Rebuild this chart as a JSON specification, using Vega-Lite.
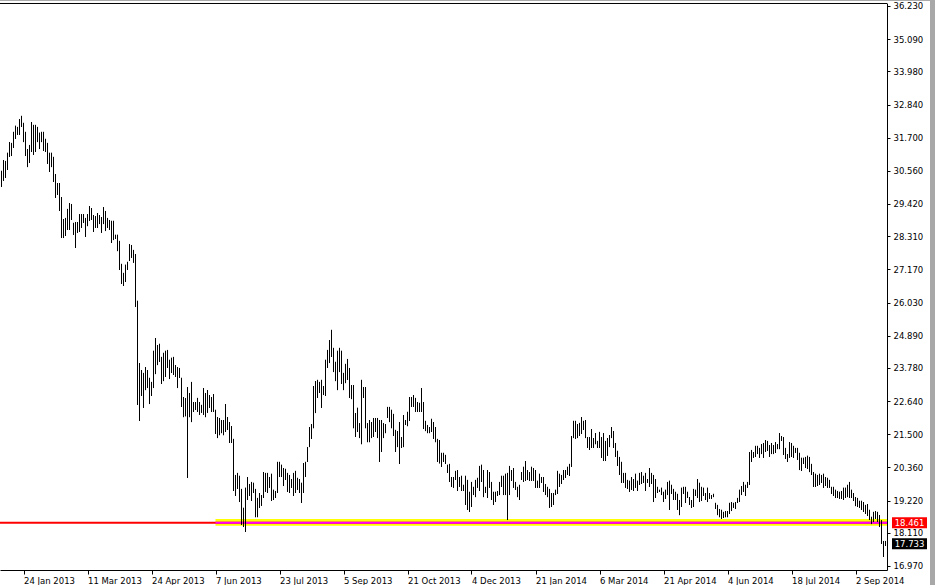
{
"$schema": "https://vega.github.io/schema/vega-lite/v6.json",
"width": 887,
"height": 567,
"autosize": {"type": "none"},
"padding": {"left": 0, "top": 3, "right": 48, "bottom": 15},
"background": "#ffffff",
"config": {"view": {"stroke": null}, "font": "DejaVu Sans", "axis": {"labelOverlap": false, "labelBound": false, "labelFlush": false}},
"datasets": {
"bars": [
{"bar":0,"high":30.56,"low":30.01},{"bar":1,"high":30.93,"low":30.22},{"bar":2,"high":30.90,"low":30.32},{"bar":3,"high":31.18,"low":30.59},{"bar":4,"high":31.55,"low":31.04},{"bar":5,"high":31.52,"low":31.07},{"bar":6,"high":31.90,"low":31.35},{"bar":7,"high":32.11,"low":31.66},{"bar":8,"high":32.07,"low":31.80},{"bar":9,"high":32.34,"low":31.80},
{"bar":10,"high":32.45,"low":32.07},{"bar":11,"high":32.21,"low":31.55},{"bar":12,"high":31.90,"low":31.07},{"bar":13,"high":31.31,"low":30.69},{"bar":14,"high":31.45,"low":30.83},{"bar":15,"high":32.24,"low":31.21},{"bar":16,"high":32.14,"low":31.11},{"bar":17,"high":32.14,"low":31.21},{"bar":18,"high":32.07,"low":31.55},{"bar":19,"high":31.87,"low":31.31},
{"bar":20,"high":31.90,"low":31.55},{"bar":21,"high":31.90,"low":31.25},{"bar":22,"high":31.66,"low":31.21},{"bar":23,"high":31.52,"low":30.80},{"bar":24,"high":31.18,"low":30.52},{"bar":25,"high":31.18,"low":30.69},{"bar":26,"high":31.04,"low":30.18},{"bar":27,"high":30.45,"low":29.63},{"bar":28,"high":30.14,"low":29.73},{"bar":29,"high":30.14,"low":29.18},
{"bar":30,"high":29.66,"low":28.25},{"bar":31,"high":28.90,"low":28.25},{"bar":32,"high":28.94,"low":28.32},{"bar":33,"high":29.25,"low":28.53},{"bar":34,"high":29.45,"low":28.53},{"bar":35,"high":29.42,"low":28.87},{"bar":36,"high":28.77,"low":28.36},{"bar":37,"high":28.80,"low":27.91},{"bar":38,"high":28.80,"low":28.43},{"bar":39,"high":29.07,"low":28.46},
{"bar":40,"high":29.07,"low":28.60},{"bar":41,"high":29.07,"low":28.77},{"bar":42,"high":28.94,"low":28.29},{"bar":43,"high":29.07,"low":28.66},{"bar":44,"high":29.35,"low":28.84},{"bar":45,"high":29.28,"low":28.87},{"bar":46,"high":29.04,"low":28.46},{"bar":47,"high":29.00,"low":28.60},{"bar":48,"high":29.11,"low":28.60},{"bar":49,"high":29.04,"low":28.73},
{"bar":50,"high":28.97,"low":28.43},{"bar":51,"high":29.31,"low":28.73},{"bar":52,"high":29.18,"low":28.49},{"bar":53,"high":28.94,"low":28.60},{"bar":54,"high":28.87,"low":28.53},{"bar":55,"high":28.84,"low":28.08},{"bar":56,"high":28.84,"low":28.18},{"bar":57,"high":28.36,"low":28.22},{"bar":58,"high":28.36,"low":27.80},{"bar":59,"high":28.15,"low":27.15},
{"bar":60,"high":27.36,"low":26.67},{"bar":61,"high":27.05,"low":26.60},{"bar":62,"high":27.33,"low":26.74},{"bar":63,"high":27.43,"low":27.15},{"bar":64,"high":28.04,"low":27.46},{"bar":65,"high":28.01,"low":27.57},{"bar":66,"high":27.84,"low":27.40},{"bar":67,"high":27.70,"low":25.88},{"bar":68,"high":26.09,"low":22.51},{"bar":69,"high":23.95,"low":21.96},
{"bar":70,"high":23.71,"low":22.82},{"bar":71,"high":23.61,"low":22.41},{"bar":72,"high":23.81,"low":23.02},{"bar":73,"high":23.71,"low":23.09},{"bar":74,"high":23.44,"low":22.54},{"bar":75,"high":23.30,"low":22.82},{"bar":76,"high":24.37,"low":23.09},{"bar":77,"high":24.81,"low":23.57},{"bar":78,"high":24.57,"low":23.88},{"bar":79,"high":24.61,"low":23.99},
{"bar":80,"high":24.16,"low":23.23},{"bar":81,"high":24.30,"low":23.33},{"bar":82,"high":24.37,"low":23.47},{"bar":83,"high":24.40,"low":23.78},{"bar":84,"high":24.06,"low":23.40},{"bar":85,"high":24.13,"low":23.61},{"bar":86,"high":24.16,"low":23.54},{"bar":87,"high":23.88,"low":23.47},{"bar":88,"high":23.81,"low":23.09},{"bar":89,"high":23.78,"low":23.44},
{"bar":90,"high":23.44,"low":22.44},{"bar":91,"high":22.78,"low":22.09},{"bar":92,"high":22.74,"low":22.12},{"bar":93,"high":23.12,"low":20.00},{"bar":94,"high":22.92,"low":22.09},{"bar":95,"high":23.30,"low":21.92},{"bar":96,"high":22.61,"low":22.27},{"bar":97,"high":22.61,"low":22.34},{"bar":98,"high":22.75,"low":22.27},{"bar":99,"high":22.61,"low":22.17},
{"bar":100,"high":22.51,"low":22.24},{"bar":101,"high":23.09,"low":22.17},{"bar":102,"high":22.92,"low":22.09},{"bar":103,"high":23.02,"low":22.24},{"bar":104,"high":22.85,"low":22.41},{"bar":105,"high":22.78,"low":22.27},{"bar":106,"high":22.88,"low":22.27},{"bar":107,"high":22.34,"low":21.51},{"bar":108,"high":22.09,"low":21.37},{"bar":109,"high":22.06,"low":21.47},
{"bar":110,"high":21.99,"low":21.54},{"bar":111,"high":21.99,"low":21.47},{"bar":112,"high":22.54,"low":21.58},{"bar":113,"high":22.09,"low":21.65},{"bar":114,"high":21.92,"low":21.20},{"bar":115,"high":21.78,"low":21.20},{"bar":116,"high":21.34,"low":19.55},{"bar":117,"high":20.10,"low":19.38},{"bar":118,"high":20.17,"low":19.62},{"bar":119,"high":20.07,"low":19.17},
{"bar":120,"high":19.62,"low":18.38},{"bar":121,"high":18.97,"low":18.31},{"bar":122,"high":19.66,"low":18.14},{"bar":123,"high":20.03,"low":19.24},{"bar":124,"high":19.79,"low":19.38},{"bar":125,"high":19.86,"low":19.21},{"bar":126,"high":19.83,"low":19.48},{"bar":127,"high":19.62,"low":18.65},{"bar":128,"high":19.31,"low":18.65},{"bar":129,"high":19.48,"low":18.97},
{"bar":130,"high":19.41,"low":19.04},{"bar":131,"high":20.20,"low":19.31},{"bar":132,"high":20.17,"low":19.52},{"bar":133,"high":20.17,"low":19.48},{"bar":134,"high":20.03,"low":19.66},{"bar":135,"high":20.14,"low":19.21},{"bar":136,"high":19.59,"low":19.24},{"bar":137,"high":19.55,"low":19.31},{"bar":138,"high":20.55,"low":19.48},{"bar":139,"high":20.55,"low":20.03},
{"bar":140,"high":20.45,"low":20.03},{"bar":141,"high":20.34,"low":19.72},{"bar":142,"high":20.31,"low":19.93},{"bar":143,"high":20.17,"low":19.52},{"bar":144,"high":20.10,"low":19.48},{"bar":145,"high":19.96,"low":19.66},{"bar":146,"high":20.17,"low":19.38},{"bar":147,"high":20.24,"low":19.48},{"bar":148,"high":20.00,"low":19.59},{"bar":149,"high":19.96,"low":19.48},
{"bar":150,"high":19.83,"low":19.14},{"bar":151,"high":20.51,"low":19.48},{"bar":152,"high":20.55,"low":20.03},{"bar":153,"high":21.06,"low":20.55},{"bar":154,"high":21.75,"low":21.06},{"bar":155,"high":21.85,"low":21.34},{"bar":156,"high":23.16,"low":21.71},{"bar":157,"high":23.33,"low":22.23},{"bar":158,"high":23.37,"low":22.75},{"bar":159,"high":23.30,"low":22.92},
{"bar":160,"high":23.37,"low":22.41},{"bar":161,"high":23.16,"low":22.85},{"bar":162,"high":24.06,"low":22.82},{"bar":163,"high":24.40,"low":23.78},{"bar":164,"high":24.74,"low":23.95},{"bar":165,"high":25.09,"low":24.16},{"bar":166,"high":24.47,"low":23.64},{"bar":167,"high":23.99,"low":23.33},{"bar":168,"high":24.37,"low":23.02},{"bar":169,"high":24.47,"low":23.64},
{"bar":170,"high":24.37,"low":23.23},{"bar":171,"high":23.61,"low":23.02},{"bar":172,"high":23.92,"low":23.26},{"bar":173,"high":24.09,"low":23.37},{"bar":174,"high":23.78,"low":22.75},{"bar":175,"high":23.19,"low":22.71},{"bar":176,"high":23.19,"low":21.71},{"bar":177,"high":22.23,"low":21.41},{"bar":178,"high":22.41,"low":21.58},{"bar":179,"high":21.88,"low":21.37},
{"bar":180,"high":23.37,"low":21.16},{"bar":181,"high":23.12,"low":22.75},{"bar":182,"high":23.12,"low":21.71},{"bar":183,"high":21.88,"low":21.23},{"bar":184,"high":21.99,"low":21.23},{"bar":185,"high":21.92,"low":21.37},{"bar":186,"high":22.06,"low":21.41},{"bar":187,"high":22.06,"low":21.58},{"bar":188,"high":22.06,"low":21.37},{"bar":189,"high":21.99,"low":20.55},
{"bar":190,"high":21.99,"low":20.89},{"bar":191,"high":21.88,"low":21.37},{"bar":192,"high":21.85,"low":21.54},{"bar":193,"high":22.44,"low":22.06},{"bar":194,"high":22.44,"low":21.92},{"bar":195,"high":22.34,"low":21.71},{"bar":196,"high":22.20,"low":21.44},{"bar":197,"high":21.65,"low":20.89},{"bar":198,"high":21.61,"low":21.06},{"bar":199,"high":21.92,"low":20.48},
{"bar":200,"high":21.40,"low":21.03},{"bar":201,"high":22.16,"low":21.06},{"bar":202,"high":21.99,"low":21.82},{"bar":203,"high":22.27,"low":21.78},{"bar":204,"high":22.78,"low":21.96},{"bar":205,"high":22.78,"low":22.44},{"bar":206,"high":22.85,"low":22.44},{"bar":207,"high":22.75,"low":22.27},{"bar":208,"high":22.61,"low":22.27},{"bar":209,"high":22.58,"low":22.27},
{"bar":210,"high":23.09,"low":22.27},{"bar":211,"high":22.61,"low":21.68},{"bar":212,"high":21.96,"low":21.61},{"bar":213,"high":21.82,"low":21.54},{"bar":214,"high":21.75,"low":21.54},{"bar":215,"high":22.03,"low":21.58},{"bar":216,"high":21.92,"low":21.34},{"bar":217,"high":21.75,"low":21.23},{"bar":218,"high":21.34,"low":20.55},{"bar":219,"high":21.30,"low":20.50},
{"bar":220,"high":20.86,"low":20.38},{"bar":221,"high":20.86,"low":20.55},{"bar":222,"high":20.79,"low":20.48},{"bar":223,"high":20.45,"low":20.17},{"bar":224,"high":20.48,"low":19.86},{"bar":225,"high":20.03,"low":19.69},{"bar":226,"high":20.03,"low":19.66},{"bar":227,"high":20.24,"low":19.93},{"bar":228,"high":20.27,"low":19.55},{"bar":229,"high":20.03,"low":19.69},
{"bar":230,"high":20.07,"low":19.55},{"bar":231,"high":19.76,"low":19.55},{"bar":232,"high":20.07,"low":19.07},{"bar":233,"high":19.93,"low":18.90},{"bar":234,"high":19.52,"low":18.83},{"bar":235,"high":19.86,"low":19.00},{"bar":236,"high":19.69,"low":19.41},{"bar":237,"high":19.93,"low":19.34},{"bar":238,"high":20.00,"low":19.66},{"bar":239,"high":20.41,"low":19.55},
{"bar":240,"high":20.45,"low":19.86},{"bar":241,"high":20.27,"low":19.34},{"bar":242,"high":19.69,"low":19.48},{"bar":243,"high":20.27,"low":19.31},{"bar":244,"high":20.20,"low":19.66},{"bar":245,"high":19.86,"low":19.24},{"bar":246,"high":19.52,"low":19.07},{"bar":247,"high":19.52,"low":19.17},{"bar":248,"high":19.55,"low":19.38},{"bar":249,"high":19.86,"low":19.41},
{"bar":250,"high":20.07,"low":19.69},{"bar":251,"high":20.07,"low":19.41},{"bar":252,"high":20.14,"low":19.41},{"bar":253,"high":20.17,"low":18.55},{"bar":254,"high":20.41,"low":19.41},{"bar":255,"high":20.27,"low":19.90},{"bar":256,"high":20.34,"low":19.66},{"bar":257,"high":19.86,"low":19.59},{"bar":258,"high":19.69,"low":19.34},{"bar":259,"high":19.76,"low":19.24},
{"bar":260,"high":20.20,"low":19.93},{"bar":261,"high":20.38,"low":19.86},{"bar":262,"high":20.58,"low":19.90},{"bar":263,"high":20.27,"low":19.93},{"bar":264,"high":20.20,"low":19.90},{"bar":265,"high":20.38,"low":19.90},{"bar":266,"high":20.34,"low":19.90},{"bar":267,"high":20.27,"low":19.66},{"bar":268,"high":19.90,"low":19.66},{"bar":269,"high":20.14,"low":19.66},
{"bar":270,"high":20.03,"low":19.83},{"bar":271,"high":20.03,"low":19.52},{"bar":272,"high":19.79,"low":19.41},{"bar":273,"high":19.69,"low":19.34},{"bar":274,"high":19.62,"low":18.97},{"bar":275,"high":19.48,"low":19.00},{"bar":276,"high":19.48,"low":19.07},{"bar":277,"high":19.59,"low":19.41},{"bar":278,"high":20.24,"low":19.45},{"bar":279,"high":20.14,"low":19.69},
{"bar":280,"high":20.10,"low":19.79},{"bar":281,"high":20.27,"low":19.93},{"bar":282,"high":20.27,"low":20.00},{"bar":283,"high":20.38,"low":20.10},{"bar":284,"high":20.48,"low":20.07},{"bar":285,"high":21.44,"low":20.38},{"bar":286,"high":21.96,"low":21.37},{"bar":287,"high":21.96,"low":21.34},{"bar":288,"high":21.85,"low":21.37},{"bar":289,"high":21.89,"low":21.44},
{"bar":290,"high":22.09,"low":21.51},{"bar":291,"high":21.96,"low":21.65},{"bar":292,"high":21.99,"low":21.37},{"bar":293,"high":21.40,"low":21.03},{"bar":294,"high":21.40,"low":20.96},{"bar":295,"high":21.68,"low":21.03},{"bar":296,"high":21.37,"low":21.03},{"bar":297,"high":21.54,"low":21.16},{"bar":298,"high":21.27,"low":21.03},{"bar":299,"high":21.58,"low":21.03},
{"bar":300,"high":21.40,"low":20.69},{"bar":301,"high":21.54,"low":20.58},{"bar":302,"high":21.27,"low":20.58},{"bar":303,"high":21.37,"low":20.76},{"bar":304,"high":21.47,"low":21.06},{"bar":305,"high":21.75,"low":21.37},{"bar":306,"high":21.61,"low":21.03},{"bar":307,"high":21.20,"low":20.72},{"bar":308,"high":20.93,"low":20.41},{"bar":309,"high":20.72,"low":20.10},
{"bar":310,"high":20.55,"low":19.83},{"bar":311,"high":20.17,"low":19.83},{"bar":312,"high":20.17,"low":19.66},{"bar":313,"high":19.93,"low":19.62},{"bar":314,"high":19.90,"low":19.52},{"bar":315,"high":20.03,"low":19.59},{"bar":316,"high":19.96,"low":19.55},{"bar":317,"high":20.14,"low":19.66},{"bar":318,"high":19.90,"low":19.55},{"bar":319,"high":20.17,"low":19.76},
{"bar":320,"high":20.20,"low":19.79},{"bar":321,"high":20.07,"low":19.83},{"bar":322,"high":20.17,"low":19.55},{"bar":323,"high":19.96,"low":19.83},{"bar":324,"high":20.34,"low":19.69},{"bar":325,"high":20.17,"low":19.79},{"bar":326,"high":20.10,"low":19.17},{"bar":327,"high":19.96,"low":19.31},{"bar":328,"high":19.69,"low":19.48},{"bar":329,"high":19.59,"low":19.52},
{"bar":330,"high":19.66,"low":19.41},{"bar":331,"high":19.52,"low":19.17},{"bar":332,"high":19.59,"low":19.28},{"bar":333,"high":19.86,"low":19.41},{"bar":334,"high":19.90,"low":18.90},{"bar":335,"high":19.76,"low":19.45},{"bar":336,"high":19.62,"low":19.24},{"bar":337,"high":19.52,"low":19.24},{"bar":338,"high":19.45,"low":18.90},{"bar":339,"high":19.24,"low":18.72},
{"bar":340,"high":19.66,"low":19.00},{"bar":341,"high":19.69,"low":19.45},{"bar":342,"high":19.69,"low":19.14},{"bar":343,"high":19.52,"low":19.31},{"bar":344,"high":19.34,"low":19.07},{"bar":345,"high":19.24,"low":18.97},{"bar":346,"high":19.62,"low":19.00},{"bar":347,"high":19.59,"low":19.38},{"bar":348,"high":19.96,"low":19.31},{"bar":349,"high":19.83,"low":19.17},
{"bar":350,"high":19.69,"low":19.21},{"bar":351,"high":19.66,"low":19.38},{"bar":352,"high":19.48,"low":19.24},{"bar":353,"high":19.66,"low":19.17},{"bar":354,"high":19.48,"low":19.28},{"bar":355,"high":19.41,"low":19.28},{"bar":356,"high":19.45,"low":19.34},{"bar":357,"high":19.14,"low":18.93},{"bar":358,"high":19.07,"low":18.72},{"bar":359,"high":18.93,"low":18.65},
{"bar":360,"high":18.90,"low":18.59},{"bar":361,"high":18.83,"low":18.62},{"bar":362,"high":18.86,"low":18.65},{"bar":363,"high":18.86,"low":18.65},{"bar":364,"high":19.14,"low":18.76},{"bar":365,"high":19.17,"low":18.86},{"bar":366,"high":19.14,"low":18.97},{"bar":367,"high":19.17,"low":18.93},{"bar":368,"high":19.31,"low":19.14},{"bar":369,"high":19.59,"low":19.17},
{"bar":370,"high":19.72,"low":19.41},{"bar":371,"high":19.86,"low":19.52},{"bar":372,"high":19.76,"low":19.38},{"bar":373,"high":19.86,"low":19.66},{"bar":374,"high":20.89,"low":19.76},{"bar":375,"high":20.96,"low":20.55},{"bar":376,"high":20.89,"low":20.69},{"bar":377,"high":21.10,"low":20.72},{"bar":378,"high":21.10,"low":20.82},{"bar":379,"high":21.03,"low":20.69},
{"bar":380,"high":21.16,"low":20.82},{"bar":381,"high":21.20,"low":20.69},{"bar":382,"high":21.30,"low":20.89},{"bar":383,"high":21.27,"low":20.93},{"bar":384,"high":21.13,"low":20.72},{"bar":385,"high":21.20,"low":20.82},{"bar":386,"high":21.13,"low":20.82},{"bar":387,"high":21.23,"low":20.86},{"bar":388,"high":21.16,"low":20.99},{"bar":389,"high":21.54,"low":20.99},
{"bar":390,"high":21.44,"low":21.27},{"bar":391,"high":21.40,"low":20.79},{"bar":392,"high":21.03,"low":20.65},{"bar":393,"high":20.82,"low":20.55},{"bar":394,"high":21.23,"low":20.69},{"bar":395,"high":21.20,"low":20.72},{"bar":396,"high":21.10,"low":20.69},{"bar":397,"high":21.03,"low":20.86},{"bar":398,"high":21.03,"low":20.62},{"bar":399,"high":20.86,"low":20.27},
{"bar":400,"high":20.69,"low":20.24},{"bar":401,"high":20.69,"low":20.48},{"bar":402,"high":20.72,"low":20.34},{"bar":403,"high":20.76,"low":20.31},{"bar":404,"high":20.72,"low":20.20},{"bar":405,"high":20.48,"low":20.10},{"bar":406,"high":20.20,"low":19.69},{"bar":407,"high":20.14,"low":19.69},{"bar":408,"high":20.10,"low":19.72},{"bar":409,"high":20.14,"low":19.76},
{"bar":410,"high":20.10,"low":19.83},{"bar":411,"high":20.14,"low":19.66},{"bar":412,"high":20.03,"low":19.72},{"bar":413,"high":20.00,"low":19.66},{"bar":414,"high":19.93,"low":19.66},{"bar":415,"high":19.69,"low":19.45},{"bar":416,"high":19.69,"low":19.38},{"bar":417,"high":19.59,"low":19.31},{"bar":418,"high":19.55,"low":19.31},{"bar":419,"high":19.52,"low":19.28},
{"bar":420,"high":19.55,"low":19.28},{"bar":421,"high":19.66,"low":19.24},{"bar":422,"high":19.66,"low":19.31},{"bar":423,"high":19.76,"low":19.34},{"bar":424,"high":19.86,"low":19.31},{"bar":425,"high":19.59,"low":19.31},{"bar":426,"high":19.48,"low":19.21},{"bar":427,"high":19.34,"low":19.03},{"bar":428,"high":19.31,"low":19.00},{"bar":429,"high":19.21,"low":18.97},
{"bar":430,"high":19.21,"low":18.90},{"bar":431,"high":19.17,"low":18.83},{"bar":432,"high":19.07,"low":18.76},{"bar":433,"high":19.10,"low":18.69},{"bar":434,"high":18.90,"low":18.55},{"bar":435,"high":18.66,"low":18.41},{"bar":436,"high":18.83,"low":18.48},{"bar":437,"high":18.86,"low":18.59},{"bar":438,"high":18.83,"low":18.48},{"bar":439,"high":18.72,"low":18.31},
{"bar":440,"high":18.55,"low":17.73},{"bar":441,"high":17.83,"low":17.28},{"bar":442,"high":17.83,"low":17.66}
],
"zone": [{"start": 107, "end": 442.75, "upper": 18.59, "lower": 18.35, "level": 18.461}],
"level": [{"price": 18.461, "label": "18.461"}],
"quote": [{"price": 17.733, "label": "17.733"}]
},
"layer": [
{
"data": {"name": "bars"},
"mark": {"type": "rule", "color": "#000000", "strokeWidth": 1},
"encoding": {
"x": {"field": "bar", "type": "quantitative", "title": null,
"scale": {"domain": [-0.75, 442.75], "nice": false, "zero": false},
"axis": {"orient": "bottom", "grid": false, "values": [11, 43, 75, 107, 139, 171, 203, 235, 267, 299, 331, 363, 395, 427], "tickCount": 100,
"labelExpr": "['24 Jan 2013','11 Mar 2013','24 Apr 2013','7 Jun 2013','23 Jul 2013','5 Sep 2013','21 Oct 2013','4 Dec 2013','21 Jan 2014','6 Mar 2014','21 Apr 2014','4 Jun 2014','18 Jul 2014','2 Sep 2014'][(datum.value-11)/32]",
"labelAlign": "left", "labelPadding": 2, "tickSize": 4, "domainColor": "#000000", "tickColor": "#000000", "labelColor": "#000000",
"labelFont": "DejaVu Sans", "labelFontSize": 8.5, "labelOverlap": false, "labelFlush": false, "labelBound": false}},
"y": {"field": "high", "type": "quantitative", "title": null,
"scale": {"domain": [16.832, 36.333], "nice": false, "zero": false},
"axis": {"orient": "right", "grid": false, "values": [36.23, 35.09, 33.98, 32.84, 31.7, 30.56, 29.42, 28.31, 27.17, 26.03, 24.89, 23.78, 22.64, 21.5, 20.36, 19.22, 18.11, 16.97], "tickCount": 100,
"format": ".3f", "tickSize": 3, "labelPadding": 3, "domainColor": "#000000", "tickColor": "#000000", "labelColor": "#000000",
"labelFont": "DejaVu Sans", "labelFontSize": 8.5, "labelOverlap": false, "labelFlush": false, "labelBound": false}},
"y2": {"field": "low"}
}
},
{
"data": {"name": "zone"},
"mark": {"type": "rect", "color": "#ffff00"},
"encoding": {
"x": {"field": "start", "type": "quantitative", "title": null},
"x2": {"field": "end"},
"y": {"field": "upper", "type": "quantitative", "title": null},
"y2": {"field": "lower"}
}
},
{
"data": {"name": "level"},
"mark": {"type": "rule", "color": "#ff0000", "strokeWidth": 2},
"encoding": {
"y": {"field": "price", "type": "quantitative", "title": null}
}
},
{
"data": {"name": "zone"},
"mark": {"type": "rule", "color": "#ff00ff", "strokeWidth": 2},
"encoding": {
"x": {"field": "start", "type": "quantitative", "title": null},
"x2": {"field": "end"},
"y": {"field": "level", "type": "quantitative", "title": null}
}
},
{
"data": {"name": "bars"},
"mark": {"type": "rule", "color": "#000000", "strokeWidth": 1},
"encoding": {
"x": {"field": "bar", "type": "quantitative", "title": null},
"y": {"field": "high", "type": "quantitative", "title": null},
"y2": {"field": "low"}
}
},
{
"data": {"name": "level"},
"mark": {"type": "rule", "color": "#000000", "strokeWidth": 1},
"encoding": {
"y": {"datum": 36.316, "type": "quantitative", "title": null}
}
},
{
"data": {"name": "level"},
"mark": {"type": "rule", "color": "#a8a8a8", "strokeWidth": 1, "clip": false},
"encoding": {
"x": {"datum": -0.75, "type": "quantitative", "title": null},
"x2": {"datum": 467.5},
"y": {"datum": 36.42, "type": "quantitative", "title": null}
}
},
{
"data": {"name": "level"},
"mark": {"type": "rule", "color": "#a8a8a8", "strokeWidth": 5, "clip": false},
"encoding": {
"x": {"datum": 465.5, "type": "quantitative", "title": null},
"y": {"datum": 36.42, "type": "quantitative", "title": null},
"y2": {"datum": 16.3}
}
},
{
"data": {"name": "level"},
"mark": {"type": "rule", "color": "#ff0000", "strokeWidth": 11, "clip": false},
"encoding": {
"x": {"datum": 445.25, "type": "quantitative", "title": null},
"x2": {"datum": 462.75},
"y": {"field": "price", "type": "quantitative", "title": null}
}
},
{
"data": {"name": "level"},
"mark": {"type": "text", "color": "#ffffff", "font": "DejaVu Sans", "fontSize": 8.5, "align": "center", "baseline": "middle", "clip": false},
"encoding": {
"x": {"datum": 454, "type": "quantitative", "title": null},
"y": {"field": "price", "type": "quantitative", "title": null},
"text": {"field": "label"}
}
},
{
"data": {"name": "quote"},
"mark": {"type": "rule", "color": "#000000", "strokeWidth": 11, "clip": false},
"encoding": {
"x": {"datum": 445.25, "type": "quantitative", "title": null},
"x2": {"datum": 462.75},
"y": {"field": "price", "type": "quantitative", "title": null}
}
},
{
"data": {"name": "quote"},
"mark": {"type": "text", "color": "#ffffff", "font": "DejaVu Sans", "fontSize": 8.5, "align": "center", "baseline": "middle", "clip": false},
"encoding": {
"x": {"datum": 454, "type": "quantitative", "title": null},
"y": {"field": "price", "type": "quantitative", "title": null},
"text": {"field": "label"}
}
}
]
}
